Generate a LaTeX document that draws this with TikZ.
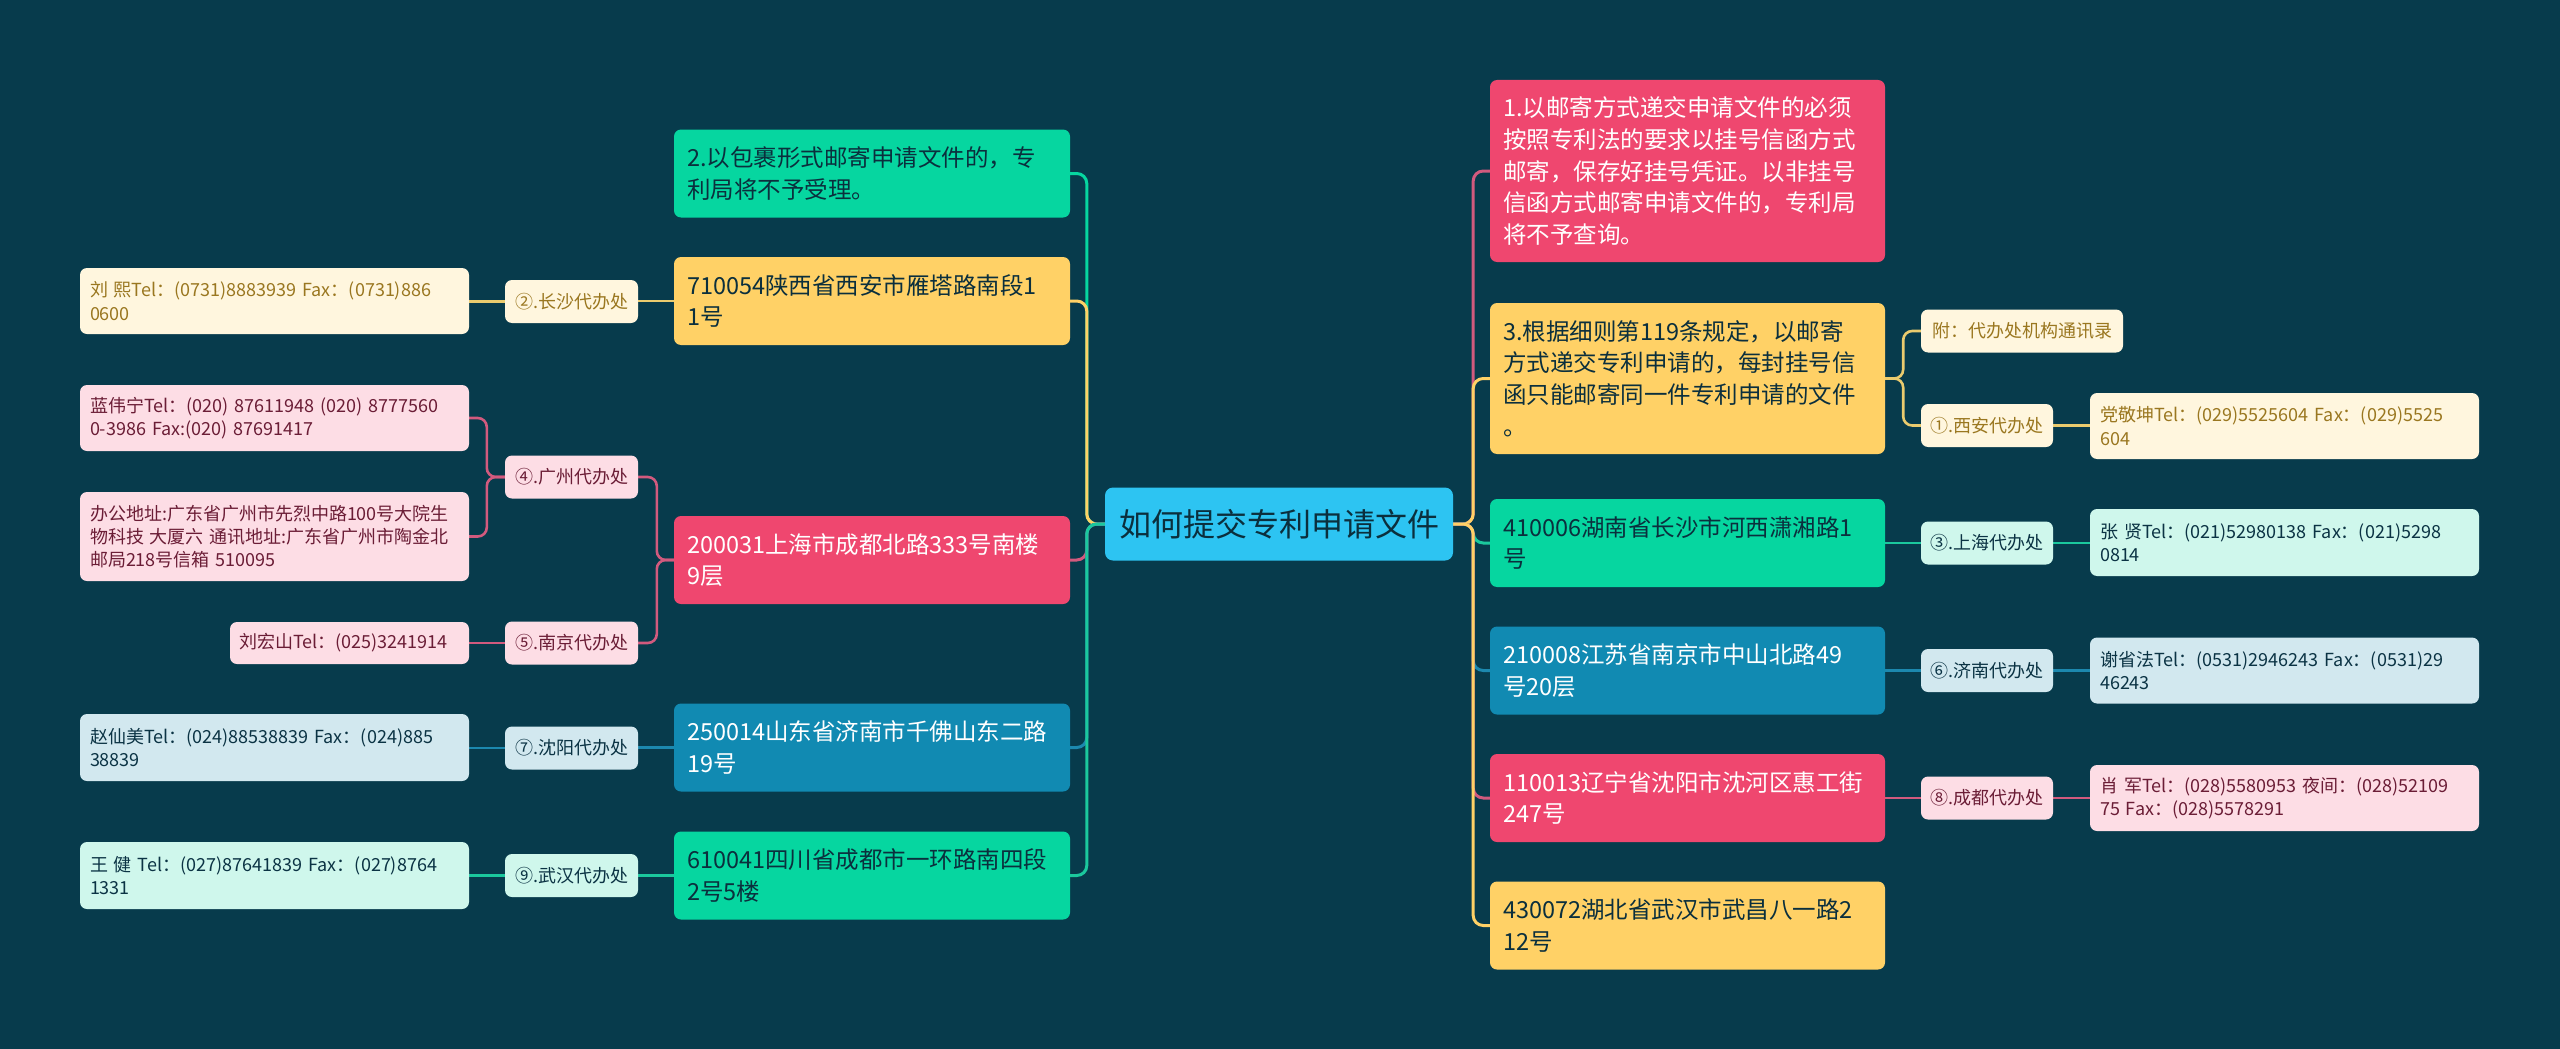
\documentclass[tikz,border=0pt]{standalone}
\usepackage{fontspec}
\setmainfont{Noto Sans CJK SC}
\usetikzlibrary{backgrounds}
\definecolor{bgc}{HTML}{073B4C}
\definecolor{ccenter}{HTML}{2DC4F2}
\definecolor{ctextdark}{HTML}{0B2F3D}
\definecolor{cred}{HTML}{EF476F}
\definecolor{cyellow}{HTML}{FFD166}
\definecolor{cgreen}{HTML}{06D6A0}
\definecolor{cblue}{HTML}{118AB2}
\definecolor{lyellow}{HTML}{FFF6DE}
\definecolor{lpink}{HTML}{FDDDE5}
\definecolor{lblue}{HTML}{D2E8EF}
\definecolor{lgreen}{HTML}{CFF7EC}
\definecolor{tyellow}{HTML}{9A7720}
\definecolor{tpink}{HTML}{6B1D36}
\definecolor{tblue}{HTML}{0B3344}
\definecolor{lnred}{HTML}{D25A7E}
\definecolor{lnyellow}{HTML}{EACB6E}
\definecolor{lnblue}{HTML}{1C88AE}
\definecolor{lngreen}{HTML}{1BC89D}
\pgfdeclarelayer{lines}
\pgfsetlayers{background,lines,main}
\tikzset{
  mainbox/.style={rounded corners=7pt, font=\fontsize{23.5}{31.7}\selectfont, text width=370pt, inner xsep=13pt, inner ysep=0pt, minimum height=88pt, align=left},
  leafbox/.style={rounded corners=7pt, font=\fontsize{18}{23.3}\selectfont, text width=369pt, inner xsep=10pt, inner ysep=0pt, minimum height=66pt, align=left},
  labelbox/.style={rounded corners=7pt, font=\fontsize{18}{23.3}\selectfont, minimum width=133pt, minimum height=43pt, inner sep=0pt, align=center},
  fred/.style={fill=cred, text=white},
  fyellow/.style={fill=cyellow, text=ctextdark},
  fgreen/.style={fill=cgreen, text=ctextdark},
  fblue/.style={fill=cblue, text=white},
  sy/.style={fill=lyellow, text=tyellow},
  sp/.style={fill=lpink, text=tpink},
  sb/.style={fill=lblue, text=tblue},
  sg/.style={fill=lgreen, text=tblue},
  conn/.style={line width=3pt, rounded corners=10pt},
  subconn/.style={line width=2.6pt, rounded corners=9pt},
}
\begin{document}
\begin{tikzpicture}[x=1pt,y=-1pt]
\begin{pgfonlayer}{background}
\fill[bgc] (0,0) rectangle (2560,1049);
\end{pgfonlayer}
\useasboundingbox (0,0) rectangle (2560,1049);

% center
\node[rounded corners=8pt, fill=ccenter, text=ctextdark, font=\fontsize{32}{38}\selectfont, minimum width=348pt, minimum height=73pt, inner sep=0pt] (c) at (1279,524) {如何提交专利申请文件};

% left main nodes
\node[mainbox, fgreen] (n2) at (872,173.5) {2.以包裹形式邮寄申请文件的，专\\利局将不予受理。};
\node[mainbox, fyellow] (n710054) at (872,301) {710054陕西省西安市雁塔路南段1\\1号};
\node[mainbox, fred] (n200031) at (872,560) {200031上海市成都北路333号南楼\\9层};
\node[mainbox, fblue] (n250014) at (872,747.5) {250014山东省济南市千佛山东二路\\19号};
\node[mainbox, fgreen] (n610041) at (872,875.5) {610041四川省成都市一环路南四段\\2号5楼};

% left labels
\node[labelbox, sy] (cs) at (571.5,301.5) {②.长沙代办处};
\node[labelbox, sp] (gz) at (571.5,477) {④.广州代办处};
\node[labelbox, sp] (nj) at (571.5,643) {⑤.南京代办处};
\node[labelbox, sb] (sy) at (571.5,748) {⑦.沈阳代办处};
\node[labelbox, sg] (wh) at (571.5,875.5) {⑨.武汉代办处};

% left leaves
\node[leafbox, sy] (lx) at (274.5,301) {\mbox{刘 熙Tel：(0731)8883939 Fax：(0731)886}\\0600};
\node[leafbox, sp] (lwn) at (274.5,418) {\mbox{蓝伟宁Tel：(020) 87611948 (020) 8777560}\\\mbox{0-3986 Fax:(020) 87691417}};
\node[leafbox, sp, minimum height=89pt] (bgdz) at (274.5,536.5) {\mbox{办公地址:广东省广州市先烈中路100号大院生}\\\mbox{物科技 大厦六 通讯地址:广东省广州市陶金北}\\\mbox{邮局218号信箱 510095}};
\node[leafbox, sp, text width=221pt, inner xsep=9pt, minimum height=42pt] (lhs) at (349.5,643) {刘宏山Tel：(025)3241914};
\node[leafbox, sb, minimum height=67pt] (zxm) at (274.5,747.5) {\mbox{赵仙美Tel：(024)88538839 Fax：(024)885}\\38839};
\node[leafbox, sg, minimum height=67pt] (wj) at (274.5,875.5) {\mbox{王 健 Tel：(027)87641839 Fax：(027)8764}\\1331};

% right main nodes
\node[mainbox, fred, text width=369pt, minimum height=182pt] (n1) at (1687.5,171) {1.以邮寄方式递交申请文件的必须\\按照专利法的要求以挂号信函方式\\邮寄，保存好挂号凭证。以非挂号\\信函方式邮寄申请文件的，专利局\\将不予查询。};
\node[mainbox, fyellow, text width=369pt, minimum height=151pt] (n3) at (1687.5,378.5) {3.根据细则第119条规定，以邮寄\\方式递交专利申请的，每封挂号信\\函只能邮寄同一件专利申请的文件\\。};
\node[mainbox, fgreen, text width=369pt] (n410006) at (1687.5,543) {410006湖南省长沙市河西潇湘路1\\号};
\node[mainbox, fblue, text width=369pt] (n210008) at (1687.5,670.5) {210008江苏省南京市中山北路49\\号20层};
\node[mainbox, fred, text width=369pt] (n110013) at (1687.5,798) {110013辽宁省沈阳市沈河区惠工街\\247号};
\node[mainbox, fyellow, text width=369pt] (n430072) at (1687.5,925.5) {430072湖北省武汉市武昌八一路2\\12号};

% right labels
\node[labelbox, sy, minimum width=202pt] (fu) at (2022,331) {附：代办处机构通讯录};
\node[labelbox, sy, minimum width=132pt] (xa) at (1987,425.5) {①.西安代办处};
\node[labelbox, sg, minimum width=132pt] (sh) at (1987,543) {③.上海代办处};
\node[labelbox, sb, minimum width=132pt] (jn) at (1987,670.5) {⑥.济南代办处};
\node[labelbox, sp, minimum width=132pt] (cd) at (1987,798) {⑧.成都代办处};

% right leaves
\node[leafbox, sy] (djk) at (2284.5,426) {\mbox{党敬坤Tel：(029)5525604 Fax：(029)5525}\\604};
\node[leafbox, sg, minimum height=67pt] (zx) at (2284.5,542.5) {\mbox{张 贤Tel：(021)52980138 Fax：(021)5298}\\0814};
\node[leafbox, sb] (xsf) at (2284.5,670.5) {\mbox{谢省法Tel：(0531)2946243 Fax：(0531)29}\\46243};
\node[leafbox, sp] (xj) at (2284.5,798) {\mbox{肖 军Tel：(028)5580953 夜间：(028)52109}\\\mbox{75 Fax：(028)5578291}};

\begin{pgfonlayer}{lines}
% center to left main
\draw[conn, cgreen] (c.west) -- ++(-18,0) |- (n2.east);
\draw[conn, cyellow] (c.west) -- ++(-18,0) |- (n710054.east);
\draw[conn, lnred] (c.west) -- ++(-18,0) |- (n200031.east);
\draw[conn, lnblue] (c.west) -- ++(-18,0) |- (n250014.east);
\draw[conn, lngreen] (c.west) -- ++(-18,0) |- (n610041.east);
% center to right main
\draw[conn, lnred] (c.east) -- ++(20,0) |- (n1.west);
\draw[conn, cyellow] (c.east) -- ++(20,0) |- (n3.west);
\draw[conn, lngreen] (c.east) -- ++(20,0) |- (n410006.west);
\draw[conn, lnblue] (c.east) -- ++(20,0) |- (n210008.west);
\draw[conn, lnred] (c.east) -- ++(20,0) |- (n110013.west);
\draw[conn, cyellow] (c.east) -- ++(20,0) |- (n430072.west);
% left sub
\draw[subconn, lnyellow] (n710054.west) -- (n710054.west -| cs.east);
\draw[subconn, lnyellow] (cs.west) -- (cs.west -| lx.east);
\draw[subconn, lnred] (n200031.west) -- ++(-17,0) |- (gz.east);
\draw[subconn, lnred] (n200031.west) -- ++(-17,0) |- (nj.east);
\draw[subconn, lnred] (gz.west) -- ++(-18,0) |- (lwn.east);
\draw[subconn, lnred] (gz.west) -- ++(-18,0) |- (bgdz.east);
\draw[subconn, lnred] (nj.west) -- (nj.west -| lhs.east);
\draw[subconn, lnblue] (n250014.west) -- (n250014.west -| sy.east);
\draw[subconn, lnblue] (sy.west) -- (sy.west -| zxm.east);
\draw[subconn, lngreen] (n610041.west) -- (n610041.west -| wh.east);
\draw[subconn, lngreen] (wh.west) -- (wh.west -| wj.east);
% right sub
\draw[subconn, lnyellow] (n3.east) -- ++(18,0) |- (fu.west);
\draw[subconn, lnyellow] (n3.east) -- ++(18,0) |- (xa.west);
\draw[subconn, lnyellow] (xa.east) -- (xa.east -| djk.west);
\draw[subconn, lngreen] (n410006.east) -- (n410006.east -| sh.west);
\draw[subconn, lngreen] (sh.east) -- (sh.east -| zx.west);
\draw[subconn, lnblue] (n210008.east) -- (n210008.east -| jn.west);
\draw[subconn, lnblue] (jn.east) -- (jn.east -| xsf.west);
\draw[subconn, lnred] (n110013.east) -- (n110013.east -| cd.west);
\draw[subconn, lnred] (cd.east) -- (cd.east -| xj.west);
\end{pgfonlayer}
\end{tikzpicture}
\end{document}
